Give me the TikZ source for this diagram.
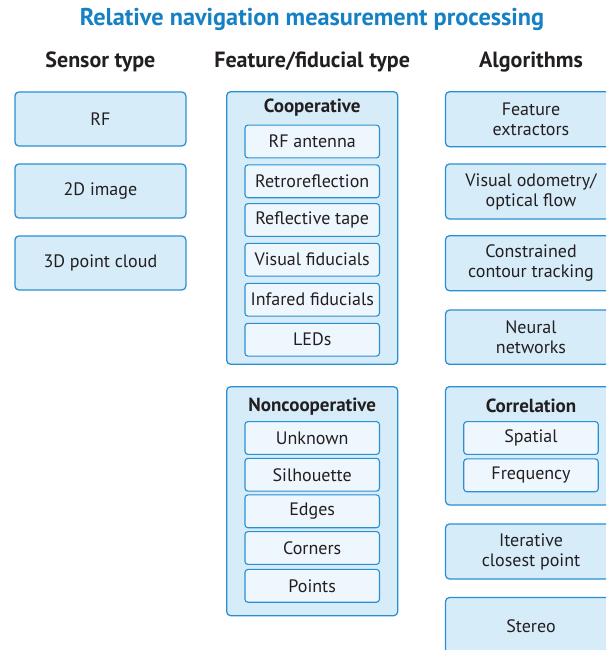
\documentclass[tikz,border=0pt]{standalone}
\usepackage{fontspec}
\setmainfont{PT Sans}
\definecolor{bord}{HTML}{2A8FD2}
\definecolor{fillA}{HTML}{D6ECF9}
\definecolor{fillB}{HTML}{EEF7FD}
\definecolor{txt}{HTML}{231F20}
\definecolor{ttl}{HTML}{1580C4}
\begin{document}
\begin{tikzpicture}[x=1pt,y=-1pt,
  every node/.style={text=txt, inner sep=0pt, font=\fontsize{18}{20}\selectfont},
  outerbox/.style={draw=bord, fill=fillA, rounded corners=4pt, line width=1.25pt, minimum width=171pt, align=center},
  innerbox/.style={draw=bord, fill=fillB, rounded corners=3pt, line width=1.1pt, minimum width=134.5pt, minimum height=32.8pt},
  colhead/.style={font=\fontsize{22}{24}\selectfont\bfseries},
  grouphead/.style={font=\fontsize{19}{21}\selectfont\bfseries}]
\clip (0,0) rectangle (606,650);
\fill[white] (0,0) rectangle (606,650);
% title and headings
\node[text=ttl, font=\fontsize{24.3}{27}\selectfont\bfseries] (title) at (312,19) {Relative navigation measurement processing};
\node[colhead] (h1) at (100.4,62) {Sensor type};
\node[colhead] (h2) at (312.2,62) {Feature/fiducial type};
\node[colhead] (h3) at (531,62) {Algorithms};
% sensor column
\node[outerbox, minimum height=54pt] (rf) at (100.4,119) {RF};
\node[outerbox, minimum height=54pt] (img) at (100.4,191) {2D image};
\node[outerbox, minimum height=54pt] (pc) at (100.4,263) {3D point cloud};
% cooperative group
\node[outerbox, minimum height=272.6pt] (coop) at (312.2,228) {};
\node[grouphead] (cooph) at (312.2,108) {Cooperative};
\node[innerbox] (c1) at (312.2,141.5) {RF antenna};
\node[innerbox] (c2) at (312.2,181.3) {Retroreflection};
\node[innerbox] (c3) at (312.2,220) {Reflective tape};
\node[innerbox] (c4) at (312.2,259.7) {Visual fiducials};
\node[innerbox] (c5) at (312.2,299.7) {Infared fiducials};
\node[innerbox] (c6) at (312.2,339.7) {LEDs};
% noncooperative group
\node[outerbox, minimum height=229pt] (ncoop) at (312.2,501.2) {};
\node[grouphead] (ncooph) at (312.2,406.7) {Noncooperative};
\node[innerbox] (n1) at (312.2,438) {Unknown};
\node[innerbox] (n2) at (312.2,474.7) {Silhouette};
\node[innerbox] (n3) at (312.2,511.3) {Edges};
\node[innerbox] (n4) at (312.2,548) {Corners};
\node[innerbox] (n5) at (312.2,585.8) {Points};
% algorithms column
\node[outerbox, minimum height=55pt] (a1) at (531,119.2) {Feature\\extractors};
\node[outerbox, minimum height=55pt] (a2) at (531,191.5) {Visual odometry/\\optical flow};
\node[outerbox, minimum height=55pt] (a3) at (531,263.2) {Constrained\\contour tracking};
\node[outerbox, minimum height=54.3pt] (a4) at (531,337.2) {Neural\\networks};
\node[outerbox, minimum height=118.3pt] (corr) at (531,445.8) {};
\node[grouphead] (corrh) at (531,406) {Correlation};
\node[innerbox] (s1) at (531,438) {Spatial};
\node[innerbox] (s2) at (531,475.3) {Frequency};
\node[outerbox, minimum height=55pt] (a5) at (531,551.5) {Iterative\\closest point};
\node[outerbox, minimum height=57pt] (a6) at (531,626) {Stereo};
\end{tikzpicture}
\end{document}
